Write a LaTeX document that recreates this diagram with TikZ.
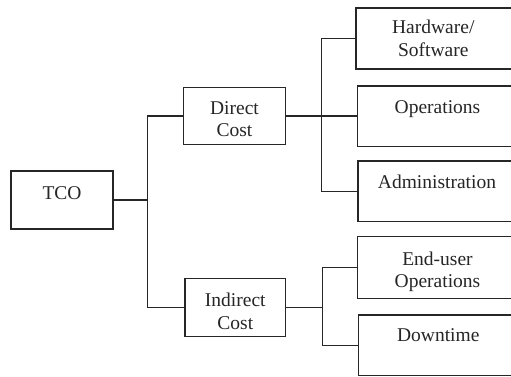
\documentclass[tikz,border=0pt]{standalone}
\usepackage{fontspec}
\setmainfont{Liberation Serif}
\definecolor{ink}{HTML}{262626}
\begin{document}
\begin{tikzpicture}[x=1pt,y=-1pt,
  box/.style={draw=ink, line width=1.3pt, rectangle, inner sep=0pt, anchor=center},
  lbl/.style={text=ink, inner sep=0pt, anchor=base, align=center,
    font=\fontsize{19.5pt}{22.7pt}\selectfont},
  conn/.style={draw=ink, line width=1.3pt}]
\clip (0,0) rectangle (511,376);
\fill[white] (0,0) rectangle (511,376);
% boxes
\node[box, minimum width=102pt, minimum height=58pt] (tco) at (62,200) {};
\node[box, minimum width=102.4pt, minimum height=57.3pt] (dir) at (234.5,116) {};
\node[box, minimum width=100.7pt, minimum height=58.3pt] (ind) at (235.3,307.5) {};
\node[box, line width=2.1pt, minimum width=162.3pt, minimum height=60.7pt] (hw) at (436.9,38.7) {};
\node[box, minimum width=160.7pt, minimum height=60.3pt] (ops) at (437.7,116) {};
\node[box, minimum width=160pt, minimum height=60.7pt] (adm) at (438,191.3) {};
\node[box, minimum width=160.7pt, minimum height=62.3pt] (eu) at (437.7,267.5) {};
\node[box, minimum width=159.7pt, minimum height=60.7pt] (dt) at (438.2,345.2) {};
% labels (anchor base = baseline of the last line)
\node[lbl] (ttco) at (62,199.3) {TCO};
\node[lbl] (tdir) at (234.5,136.7) {Direct\\Cost};
\node[lbl] (tind) at (235.3,329.4) {Indirect\\Cost};
\node[lbl] (thw) at (433.3,56.5) {Hardware/\\Software};
\node[lbl] (tops) at (437.5,113.3) {Operations};
\node[lbl] (tadm) at (437,188.3) {Administration};
\node[lbl] (teu) at (437.5,287.7) {End-user\\Operations};
\node[lbl] (tdt) at (438.3,341.7) {Downtime};
% junctions
\coordinate (j1) at (147.7,200);
\coordinate (j2) at (321.7,116);
\coordinate (j3) at (322.7,307.5);
% connectors
\draw[conn] (tco.east) -- (j1);
\draw[conn] (dir.west) -| (j1);
\draw[conn] (j1) |- (ind.west);
\draw[conn] (dir.east) -- (j2);
\draw[conn] (j2) -- (ops.west);
\draw[conn] (hw.west) -| (j2);
\draw[conn] (j2) |- (adm.west);
\draw[conn] (ind.east) -- (j3);
\draw[conn] (eu.west) -| (j3);
\draw[conn] (j3) |- (dt.west);
\end{tikzpicture}
\end{document}
